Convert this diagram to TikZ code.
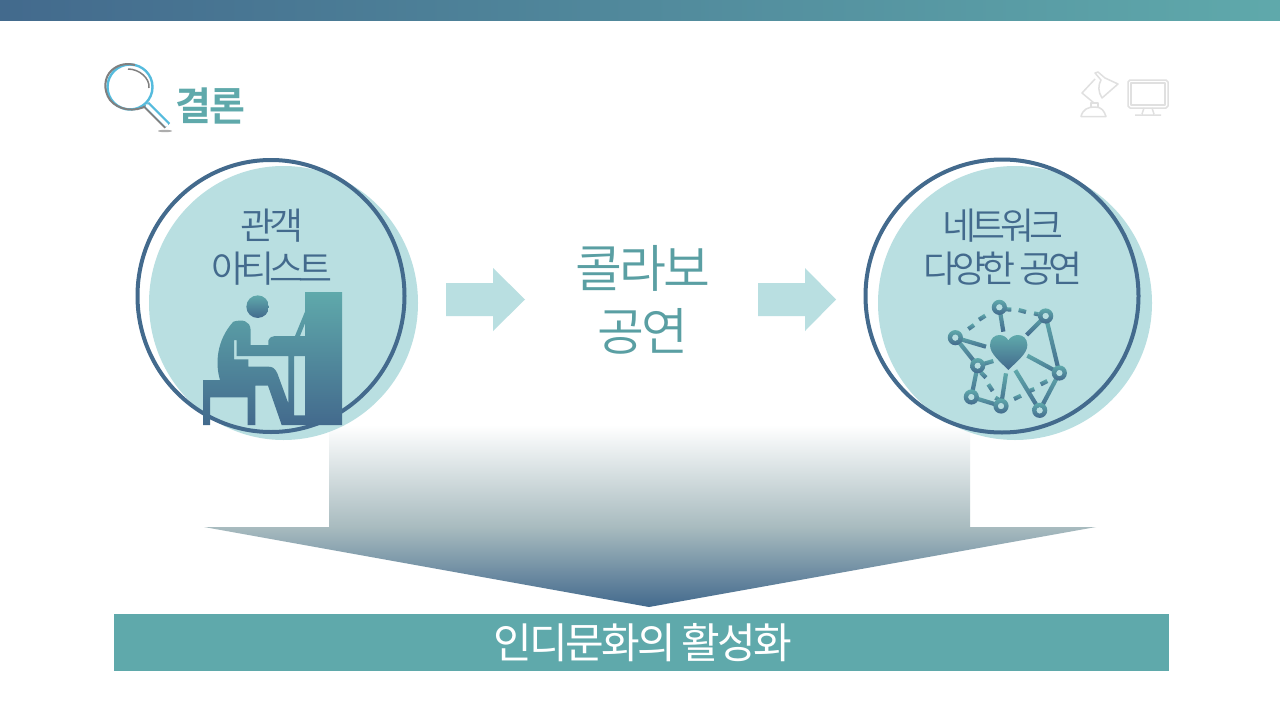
\documentclass[tikz,border=0pt]{standalone}
\usepackage{fontspec}
\usetikzlibrary{calc}
\newfontfamily\krf[LetterSpace=-6]{Noto Sans CJK KR}
\newfontfamily\krl[LetterSpace=-6]{Noto Sans CJK KR DemiLight}
\newfontfamily\krt[LetterSpace=-13]{Noto Sans CJK KR DemiLight}
\newfontfamily\krb[LetterSpace=-4]{Noto Sans CJK KR Bold}
\definecolor{teal1}{HTML}{5FA9AB}
\definecolor{tealt}{HTML}{5A9FA3}
\definecolor{blue1}{HTML}{436A8D}
\definecolor{pale}{HTML}{B9DFE1}
\definecolor{midg}{HTML}{A8BBBF}
\definecolor{midh}{HTML}{8FA8B1}
\definecolor{icon}{HTML}{E0E0E0}
\definecolor{lensc}{HTML}{55BBDD}
\tikzset{
  grad/.style={top color=teal1,bottom color=blue1},
  ringline/.style={draw=blue1,line width=4pt},
  blob/.style={fill=pale},
  lbl/.style={text=blue1,align=center,inner sep=0pt,font=\krt\fontsize{37}{43}\selectfont},
  iconl/.style={draw=icon,line width=1.5pt,line join=round},
  zoomp/.style={shift={(190,280)},x=0.33333pt,y=-0.33333pt},
  zoomn/.style={shift={(930,285)},x=0.33333pt,y=-0.33333pt},
}
\newcommand{\nline}[2]{\shade[grad] ($(#1)!2.1pt!90:(#2)$) -- ($(#1)!2.1pt!-90:(#2)$) -- ($(#2)!2.1pt!90:(#1)$) -- ($(#2)!2.1pt!-90:(#1)$) -- cycle;}
\newcommand{\nring}[1]{\fill[pale] (#1) circle (3.3pt); \shade[grad,even odd rule] (#1) circle (7.6pt) (#1) circle (3.3pt);}
\begin{document}
\begin{tikzpicture}[x=1pt,y=-1pt]
\useasboundingbox (0,0) rectangle (1280,720);
\fill[white] (0,0) rectangle (1280,720);
\shade[left color=blue1,right color=teal1] (0,0) rectangle (1280,20);
% magnifier
\fill[gray!80,opacity=.8] (165,131) ellipse (7pt and 1.2pt);
\draw[draw=lensc,line width=2.4pt] (130,87) circle (22.5pt);
\draw[draw=gray,line width=2pt] (148,105) .. controls (135,113) and (118,110) .. (110,100) .. controls (103,90) and (104,77) .. (112,70) .. controls (119,64) and (127,63) .. (135,65);
\draw[gray,line width=1.5pt] (128,69) .. controls (139,69) and (150,78) .. (149,88);
\draw[line width=7pt,draw=gray] (146,105) -- (167,126);
\draw[line width=6pt,draw=lensc] (147,104) -- (168,125);
\draw[line width=3.4pt,draw=white,line cap=round] (147,105.5) -- (167,125.5);
\node[text=teal1,inner sep=0pt,font=\krb\fontsize{39}{44}\selectfont] (title) at (210.5,105.5) {결론};
% lamp
\draw[iconl] (1081,116.5) .. controls (1083,109) and (1088,107) .. (1095,107) .. controls (1102,107) and (1104,111) .. (1106,116.5) -- cycle;
\draw[iconl] (1091,107) -- (1091,103) -- (1098,103) -- (1098,107);
\draw[iconl] (1094,103) -- (1082,93) -- (1095,79);
\draw[iconl] (1095,73) -- (1098,72) -- (1105,78) -- (1118,84) -- (1102,98) .. controls (1098,92) and (1098,85) .. (1101,80) -- cycle;
% monitor
\draw[iconl] (1128,82) -- (1130,80) -- (1166,80) -- (1168,82) -- (1168,106) -- (1166,108) -- (1130,108) -- (1128,106) -- cycle;
\draw[iconl] (1131,83) rectangle (1165,105);
\draw[iconl] (1144,108) -- (1142,114) (1152,108) -- (1154,114) (1135,115) -- (1161,115);
% big arrow
\shade[top color=white,bottom color=midg] (329,425) rectangle (970,527);
\shade[top color=midg,middle color=midh,bottom color=blue1] (204,527) -- (1096,527) -- (649,607) -- cycle;
% circles
\fill[blob] (283.5,303) ellipse (134.5pt and 137pt);
\draw[ringline] (271,296) ellipse (133.5pt and 136pt);
\fill[blob] (1015,303) circle (137pt);
\draw[ringline] (1002,296) circle (136.5pt);
% piano player
\begin{scope}[zoomp]
\shade[grad] (203,80) circle (11.3pt);
\shade[grad,even odd rule]
  (130,125) .. controls (155,118) and (180,120) .. (182,150) -- (182,195) -- (235,195) -- (235,182) .. controls (240,172) and (245,168) .. (255,168) -- (315,168) -- (345,95) -- (345,36) -- (456,36) -- (456,435) -- (275,435) -- (234,317) -- (196,317) -- (196,435) -- (173,435) -- (173,352) -- (60,352) -- (60,435) -- (39,435) -- (39,300) -- (90,300) .. controls (75,250) and (80,180) .. (130,125) -- cycle
  (132,180) -- (140,180) -- (140,228) -- (295,228) -- (295,370) -- (262,280) .. controls (255,265) and (248,260) .. (235,260) -- (175,260) -- (175,238) -- (132,238) -- cycle
  (312,228) -- (345,228) -- (345,406) -- (312,406) -- cycle
  (345,130) -- (345,168) -- (330,168) -- cycle;
\end{scope}
% block arrows
\fill[blob] (446,283) -- (493,283) -- (493,268) -- (525,299.5) -- (493,331) -- (493,316) -- (446,316) -- cycle;
\fill[blob] (758,283) -- (805,283) -- (805,268) -- (836,299.5) -- (805,331) -- (805,316) -- (758,316) -- cycle;
% network
\begin{scope}[zoomn]
\coordinate (na) at (208,67);
\coordinate (nb) at (347,93);
\coordinate (nc) at (76,158);
\coordinate (nd) at (143,242);
\coordinate (ne) at (388,264);
\coordinate (nf) at (124,336);
\coordinate (ng) at (213,363);
\coordinate (nh) at (329,376);
\coordinate (h1) at (220,140);
\coordinate (h2) at (290,150);
\coordinate (h3) at (168,185);
\coordinate (h4) at (190,228);
\coordinate (h5) at (292,212);
\coordinate (h6) at (256,256);
\coordinate (h7) at (228,265);
\nline{na}{h1}\nline{nb}{h2}\nline{nc}{h3}\nline{nd}{h4}\nline{ne}{h5}\nline{nh}{h6}\nline{ng}{h7}
\nline{nc}{nd}\nline{nb}{ne}\nline{ne}{nh}\nline{nd}{nf}\nline{nf}{ng}
\foreach \a/\b/\c/\d in {115/132/132/120, 147/104/166/92, 220/72/244/74, 266/75/288/81, 312/85/325/88, 152/262/168/278, 175/298/188/318, 196/338/208/345, 252/342/273/332, 298/318/313/312, 332/298/352/288}{
  \coordinate (p) at (\a,\b); \coordinate (q) at (\c,\d); \nline{p}{q}}
\foreach \n in {na,nb,nc,nd,ne,nf,ng,nh}{\nring{\n}}
\shade[grad] (235,255) .. controls (205,225) and (180,205) .. (180,180) .. controls (180,160) and (195,150) .. (208,150) .. controls (220,150) and (230,157) .. (235,166) .. controls (240,157) and (252,150) .. (264,150) .. controls (278,150) and (292,160) .. (292,180) .. controls (292,205) and (265,225) .. (235,255) -- cycle;
\end{scope}
% texts
\node[lbl] (l1) at (272,247.5) {관객\\아티스트};
\node[lbl] (r1) at (1003,247.5) {네트워크\\다양한 공연};
\node[text=tealt,align=center,inner sep=0pt,font=\krl\fontsize{51}{64}\selectfont] (mid) at (643,300) {콜라보\\[-1pt]공연};
\fill[teal1] (114,614) rectangle (1169,671);
\node[text=white,inner sep=0pt,font=\krf\fontsize{42}{48}\selectfont] (bar) at (642.5,643) {인디문화의\hspace{-2pt} 활성화};
\end{tikzpicture}
\end{document}
